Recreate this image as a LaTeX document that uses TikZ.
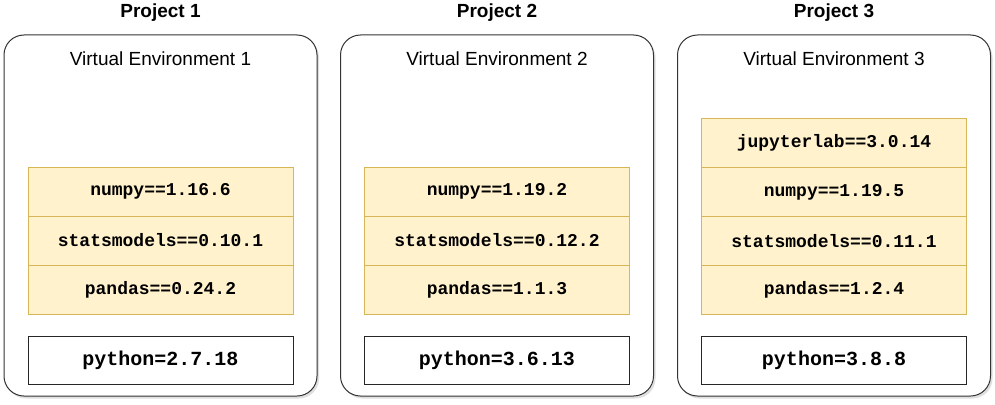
\documentclass[tikz,border=0pt]{standalone}
\usepackage{fontspec}
\setmainfont{Liberation Sans}
\setmonofont{Liberation Mono}
\usepackage{xcolor}
\usetikzlibrary{positioning, shadows}
\definecolor{PkgFill}{HTML}{FFF2CC}
\definecolor{PkgBorder}{HTML}{D6B656}
\definecolor{EnvBorder}{HTML}{333333}

\begin{document}
\begin{tikzpicture}[x=1pt, y=-1pt,
            venv/.style={rectangle, draw=EnvBorder, line width=1pt, fill=white, rounded corners=20pt, minimum width=313pt, minimum height=361pt, drop shadow={shadow xshift=2pt, shadow yshift=-2.5pt, opacity=0.25}},
            title/.style={anchor=base, font=\fontsize{19}{22}\selectfont\bfseries},
            envlabel/.style={anchor=base, font=\fontsize{19}{22}\selectfont},
            pkg/.style={rectangle, draw=PkgBorder, fill=PkgFill, line width=0.8pt, minimum width=265pt, minimum height=49pt, inner sep=0pt, outer sep=0pt, font=\ttfamily\bfseries\fontsize{18}{20}\selectfont},
            pyver/.style={rectangle, draw=black!85, fill=white, line width=1pt, minimum width=265pt, minimum height=48pt, inner sep=0pt, font=\ttfamily\bfseries\fontsize{20}{22}\selectfont}
        ]
            \useasboundingbox (0,0) rectangle (995,404);
            % project titles
            \node[title] (proj1) at (160.5,18) {Project 1};
            \node[title] (proj2) at (497,18) {Project 2};
            \node[title] (proj3) at (834,18) {Project 3};
            % virtual environments
            \node[venv] (venv1) at (160.5,215.5) {};
            \node[venv] (venv2) at (497,215.5) {};
            \node[venv] (venv3) at (834,215.5) {};
            \node[envlabel] (lab1) at (160.5,65) {Virtual Environment 1};
            \node[envlabel] (lab2) at (497,65) {Virtual Environment 2};
            \node[envlabel] (lab3) at (834,65) {Virtual Environment 3};
            % packages
            \node[pkg] (np1) at (160.5,191.5) {numpy==1.16.6};
            \node[pkg, below=0pt of np1] (sm1) {statsmodels==0.10.1};
            \node[pkg, below=0pt of sm1] (pd1) {pandas==0.24.2};
            \node[pkg] (np2) at (497,191.5) {numpy==1.19.2};
            \node[pkg, below=0pt of np2] (sm2) {statsmodels==0.12.2};
            \node[pkg, below=0pt of sm2] (pd2) {pandas==1.1.3};
            \node[pkg] (jl3) at (834,143) {jupyterlab==3.0.14};
            \node[pkg, below=0pt of jl3] (np3) {numpy==1.19.5};
            \node[pkg, below=0pt of np3] (sm3) {statsmodels==0.11.1};
            \node[pkg, below=0pt of sm3] (pd3) {pandas==1.2.4};
            % python versions
            \node[pyver] (py1) at (160.5,360) {python=2.7.18};
            \node[pyver] (py2) at (497,360) {python=3.6.13};
            \node[pyver] (py3) at (834,360) {python=3.8.8};
        \end{tikzpicture}
\end{document}
